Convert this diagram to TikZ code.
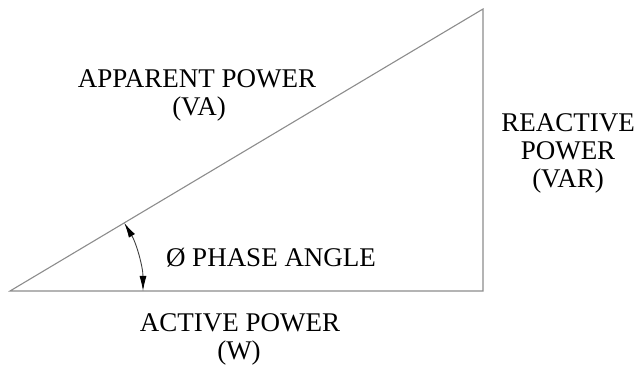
\documentclass[tikz,border=0pt]{standalone}
\usepackage{fontspec}
\setmainfont{Liberation Serif}
\usetikzlibrary{arrows.meta,calc}
\tikzset{
  lbl/.style={anchor=base,inner sep=0pt,font=\fontsize{27}{30}\selectfont},
  side/.style={draw=black!45,line width=1.1pt},
  angarrow/.style={draw=black!75,line width=0.9pt,{Latex[length=15pt,width=7pt,black]}-{Latex[length=15pt,width=7pt,black]}}
}
\begin{document}
\begin{tikzpicture}[x=1pt,y=1pt]
\useasboundingbox (0,0) rectangle (642,369);
\coordinate (A) at (10,78);
\coordinate (B) at (483,78);
\coordinate (C) at (483,360);
\draw[side] (A) -- (B) -- (C) -- cycle;
\draw[angarrow] ($(A)+(0:133)$) arc[start angle=0,end angle=30.8,radius=133];
\node[lbl] (app1) at (197,281) {APPARENT POWER};
\node[lbl] (app2) at (199,253) {(VA)};
\node[lbl] (rea1) at (568,237) {REACTIVE};
\node[lbl] (rea2) at (568,209) {POWER};
\node[lbl] (rea3) at (568,181) {(VAR)};
\node[lbl] (ang) at (271,102) {Ø PHASE ANGLE};
\node[lbl] (act1) at (240,37) {ACTIVE POWER};
\node[lbl] (act2) at (239,9) {(W)};
\end{tikzpicture}
\end{document}
